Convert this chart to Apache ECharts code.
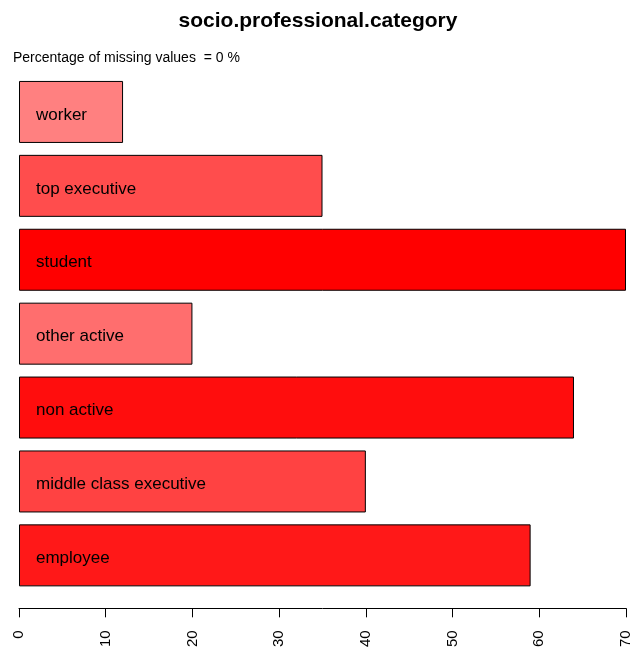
<!DOCTYPE html>
<html>
<head>
<meta charset="utf-8">
<title>socio.professional.category</title>
<script src="https://cdn.jsdelivr.net/npm/echarts@6/dist/echarts.min.js"></script>
<style>
  html, body { margin: 0; padding: 0; background: #fff; }
  #chart { width: 636px; height: 650px; }
</style>
</head>
<body>
<div id="chart"></div>
<script type="text/javascript">
// categories bottom to top, as in the R barplot
var categories = ['employee', 'middle class executive', 'non active', 'other active', 'student', 'top executive', 'worker'];
var counts = [59, 40, 64, 20, 70, 35, 12];
var xTicks = [0, 10, 20, 30, 40, 50, 60, 70];

var maxCount = Math.max.apply(null, counts);
var minCount = Math.min.apply(null, counts);

// redder bar for bigger count (alpha from 0.5 to 1)
function barColor(v) {
    var a = 0.5 + 0.5 * (v - minCount) / (maxCount - minCount);
    var g = Math.round(255 * (1 - a));
    return 'rgb(255,' + g + ',' + g + ')';
}

var myChart = echarts.init(document.getElementById('chart'));
var font = 'Liberation Sans, Arial, Helvetica, sans-serif';

var option = {
    animation: false,
    backgroundColor: '#ffffff',
    title: [{
        text: 'socio.professional.category',
        left: 'center',
        top: 6,
        textStyle: { fontFamily: font, fontSize: 21, fontWeight: 'bold', color: '#000' }
    }, {
        text: 'Percentage of missing values  = 0 %',
        left: 8,
        top: 46,
        textStyle: { fontFamily: font, fontSize: 14, fontWeight: 'normal', color: '#000' }
    }],
    grid: { left: 19, right: 10, top: 75, bottom: 56 },
    xAxis: {
        type: 'value',
        min: xTicks[0],
        max: xTicks[xTicks.length - 1],
        interval: 10,
        offset: 16,
        axisLine: { show: true, lineStyle: { color: '#000', width: 1 } },
        axisTick: { show: true, length: 9, lineStyle: { color: '#000' } },
        splitLine: { show: false },
        axisLabel: {
            rotate: 90,
            margin: 22,
            fontFamily: font,
            fontSize: 15,
            color: '#000'
        }
    },
    yAxis: {
        type: 'category',
        data: categories,
        show: false
    },
    series: [{
        type: 'bar',
        barWidth: 62,
        data: counts.map(function (v) {
            return { value: v, itemStyle: { color: barColor(v) } };
        }),
        itemStyle: { borderColor: '#000', borderWidth: 1 },
        label: {
            show: true,
            position: 'insideLeft',
            distance: 17,
            offset: [0, 3],
            formatter: function (p) { return p.name; },
            fontFamily: font,
            fontSize: 17,
            color: '#000'
        }
    }]
};
myChart.setOption(option);
</script>
</body>
</html>
